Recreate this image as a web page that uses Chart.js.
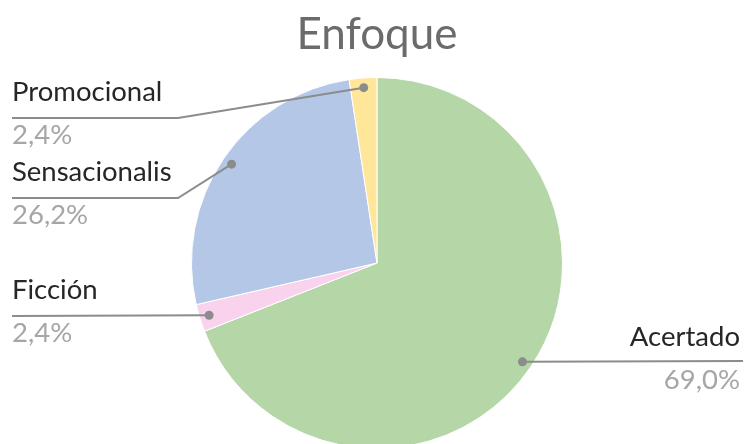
<!DOCTYPE html>
<html>
<head>
<meta charset="utf-8">
<script src="https://cdn.jsdelivr.net/npm/chart.js@4"></script>
<style>
html,body{margin:0;padding:0;overflow:hidden;background:#fff;}
#wrap{width:744px;height:460px;position:relative;}
</style>
</head>
<body>
<div id="wrap"><canvas id="c"></canvas></div>
<script>
const title = 'Enfoque';
const categories = ['Acertado', 'Ficción', 'Sensacionalis', 'Promocional'];
const values = [69.0, 2.4, 26.2, 2.4];
const percentLabels = ['69,0%', '2,4%', '26,2%', '2,4%'];
const colors = ['#b5d6a7', '#f9d3ee', '#b4c7e7', '#ffe699'];

// label layout (positions only)
const labelLayout = [
  {side:'right', x:740, nameY:337, lineY:361, pctY:380, lineEnd:743},
  {side:'left',  x:12,  nameY:290, lineY:316, pctY:333, lineEnd:12, elbow:null},
  {side:'left',  x:12,  nameY:172, lineY:198, pctY:215, lineEnd:12, elbow:178},
  {side:'left',  x:12,  nameY:92,  lineY:118, pctY:135, lineEnd:12, elbow:178}
];

const labelPlugin = {
  id:'labels',
  afterDatasetsDraw(chart){
    const ctx = chart.ctx;
    const meta = chart.getDatasetMeta(0);
    ctx.save();
    // title
    ctx.fillStyle = '#6b6b6b';
    ctx.font = '44px Lato';
    ctx.textAlign = 'center';
    ctx.textBaseline = 'middle';
    ctx.fillText(title, 377, 35);
    meta.data.forEach((arc, i) => {
      const p = arc.getProps(['x','y','startAngle','endAngle','outerRadius'], true);
      const mid = (p.startAngle + p.endAngle) / 2;
      const r = p.outerRadius * 0.948;
      const dx = p.x + Math.cos(mid) * r;
      const dy = p.y + Math.sin(mid) * r;
      const L = labelLayout[i];
      ctx.strokeStyle = '#8c8c8c';
      ctx.lineWidth = 2;
      ctx.beginPath();
      ctx.moveTo(dx, dy);
      if (L.elbow != null) {
        ctx.lineTo(L.elbow, L.lineY);
        ctx.lineTo(L.lineEnd, L.lineY);
      } else {
        ctx.lineTo(L.lineEnd, L.lineY);
      }
      ctx.stroke();
      ctx.fillStyle = '#8c8c8c';
      ctx.beginPath();
      ctx.arc(dx, dy, 4.5, 0, Math.PI*2);
      ctx.fill();
      ctx.textBaseline = 'middle';
      ctx.textAlign = L.side === 'right' ? 'right' : 'left';
      ctx.font = '27.5px Lato';
      ctx.fillStyle = '#262626';
      ctx.fillText(categories[i], L.x, L.nameY);
      ctx.fillStyle = '#a6a6a6';
      ctx.fillText(percentLabels[i], L.x, L.pctY);
    });
    ctx.restore();
  }
};

new Chart(document.getElementById('c'), {
  type:'pie',
  data:{
    labels:categories,
    datasets:[{
      data:values,
      backgroundColor:colors,
      borderColor:'#ffffff',
      borderWidth:1
    }]
  },
  options:{
    responsive:true,
    maintainAspectRatio:false,
    animation:false,
    layout:{padding:{top:77, bottom:11, left:191, right:181}},
    plugins:{legend:{display:false}, tooltip:{enabled:false}, title:{display:false}}
  },
  plugins:[labelPlugin]
});
</script>
</body>
</html>
